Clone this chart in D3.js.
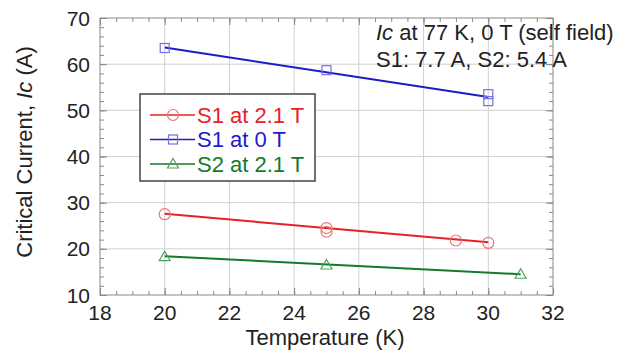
<!DOCTYPE html>
<html><head><meta charset="utf-8">
<script src="https://cdn.jsdelivr.net/npm/d3@7"></script>
<style>body{margin:0;background:#fff}svg{display:block;font-family:Arial,"Liberation Sans",sans-serif}</style>
</head><body>
<svg id="c" width="627" height="351"></svg>
<script>
// Data
const seriesNames = ["S1 at 2.1 T", "S1 at 0 T", "S2 at 2.1 T"];
const s1High = [[20,27.5],[25,24.5],[25,23.7],[29,21.8],[30,21.3]];
const s1Zero = [[20,63.5],[25,58.7],[30,53.5],[30,52.0]];
const s2High = [[20,18.3],[25,16.5],[31,14.5]];
const fitS1High = [[20,27.6],[30,21.4]];
const fitS1Zero = [[20,63.6],[30,52.9]];
const fitS2High = [[20,18.4],[31,14.5]];
const xTicks = [18,20,22,24,26,28,30,32];
const yTicks = [10,20,30,40,50,60,70];
const noteLines = ["at 77 K, 0 T (self field)", "S1: 7.7 A, S2: 5.4 A"];

const svg = d3.select("#c");
const L=100,R=553,T=18,B=295;
const FS=21, FT=22;
const x = d3.scaleLinear().domain([18,32]).range([L,R]);
const y = d3.scaleLinear().domain([10,70]).range([B,T]);

// grid
const g = svg.append("g");
g.selectAll(".gx").data(xTicks.slice(1,-1)).join("line")
 .attr("x1",d=>x(d)).attr("x2",d=>x(d)).attr("y1",T).attr("y2",B)
 .attr("stroke","#d0d0d0").attr("stroke-width",1);
g.selectAll(".gy").data(yTicks.slice(1,-1)).join("line")
 .attr("y1",d=>y(d)).attr("y2",d=>y(d)).attr("x1",L).attr("x2",R)
 .attr("stroke","#d0d0d0").attr("stroke-width",1);

// axes with inner ticks
const axCol="#888";
function styleAxis(sel){sel.select(".domain").remove();sel.selectAll("line").attr("stroke",axCol);sel.selectAll("text").remove();}
const xMinor = d3.range(18,32.01,0.5);
const yMinor = d3.range(10,70.01,2);
svg.append("g").attr("transform",`translate(0,${B})`).call(d3.axisTop(x).tickValues(xMinor).tickSize(4)).call(styleAxis);
svg.append("g").attr("transform",`translate(0,${B})`).call(d3.axisTop(x).tickValues(xTicks).tickSize(7)).call(styleAxis);
svg.append("g").attr("transform",`translate(0,${T})`).call(d3.axisBottom(x).tickValues(xMinor).tickSize(4)).call(styleAxis);
svg.append("g").attr("transform",`translate(0,${T})`).call(d3.axisBottom(x).tickValues(xTicks).tickSize(7)).call(styleAxis);
svg.append("g").attr("transform",`translate(${L},0)`).call(d3.axisRight(y).tickValues(yMinor).tickSize(4)).call(styleAxis);
svg.append("g").attr("transform",`translate(${L},0)`).call(d3.axisRight(y).tickValues(yTicks).tickSize(7)).call(styleAxis);
svg.append("g").attr("transform",`translate(${R},0)`).call(d3.axisLeft(y).tickValues(yMinor).tickSize(4)).call(styleAxis);
svg.append("g").attr("transform",`translate(${R},0)`).call(d3.axisLeft(y).tickValues(yTicks).tickSize(7)).call(styleAxis);
svg.append("rect").attr("x",L).attr("y",T).attr("width",R-L).attr("height",B-T)
 .attr("fill","none").attr("stroke",axCol).attr("stroke-width",1);

// tick labels
svg.selectAll(".xl").data(xTicks).join("text").attr("x",d=>x(d)).attr("y",320)
 .attr("text-anchor","middle").attr("font-size",FS).attr("fill","#222").text(d=>d);
svg.selectAll(".yl").data(yTicks).join("text").attr("x",L-10).attr("y",d=>y(d)+7.5)
 .attr("text-anchor","end").attr("font-size",FS).attr("fill","#222").text(d=>d);

// axis titles
svg.append("text").attr("x",325).attr("y",345).attr("text-anchor","middle")
 .attr("font-size",FT).attr("fill","#222").text("Temperature (K)");
const yt = svg.append("text").attr("transform",`translate(32,152) rotate(-90)`)
 .attr("text-anchor","middle").attr("font-size",FT).attr("fill","#222");
yt.append("tspan").text("Critical Current, ");
yt.append("tspan").attr("font-style","italic").text("Ic");
yt.append("tspan").text(" (A)");

// series
const series = [
 {name:seriesNames[0], pts:s1High, fit:fitS1High, line:"#e8202a", mk:"#f07070", shape:"circle"},
 {name:seriesNames[1], pts:s1Zero, fit:fitS1Zero, line:"#1c1cc8", mk:"#7070e8", shape:"square"},
 {name:seriesNames[2], pts:s2High, fit:fitS2High, line:"#147a28", mk:"#50a060", shape:"triangle"}
];
const lineGen = d3.line().x(d=>x(d[0])).y(d=>y(d[1]));
function marker(sel, shape, color, cx, cy){
  if(shape==="circle") sel.append("circle").attr("cx",cx).attr("cy",cy).attr("r",5.5).attr("fill","none").attr("stroke",color).attr("stroke-width",1.2);
  else if(shape==="square") sel.append("rect").attr("x",cx-4.5).attr("y",cy-4.5).attr("width",9).attr("height",9).attr("fill","none").attr("stroke",color).attr("stroke-width",1.2);
  else sel.append("path").attr("d",`M${cx},${cy-5.5}L${cx+5.5},${cy+4}L${cx-5.5},${cy+4}Z`).attr("fill","none").attr("stroke",color).attr("stroke-width",1.2);
}
series.forEach(s=>{
  svg.append("path").attr("d",lineGen(s.fit)).attr("fill","none").attr("stroke",s.line).attr("stroke-width",2);
  const mg = svg.append("g");
  s.pts.forEach(p=>marker(mg,s.shape,s.mk,x(p[0]),y(p[1])));
});

// legend
const lg = svg.append("g");
lg.append("rect").attr("x",140).attr("y",94).attr("width",175).attr("height",87)
 .attr("fill","#fff").attr("stroke","#444").attr("stroke-width",1.5);
series.forEach((s,i)=>{
  const cy = 115 + i*24.5;
  lg.append("line").attr("x1",150).attr("x2",195).attr("y1",cy).attr("y2",cy).attr("stroke",s.line).attr("stroke-width",1.5);
  marker(lg,s.shape,s.mk,173,cy);
  lg.append("text").attr("x",197).attr("y",cy+7.5).attr("font-size",FT).attr("fill",s.line).text(s.name);
});

// annotation
const nt = svg.append("text").attr("x",376).attr("y",40).attr("font-size",FT).attr("fill","#222");
nt.append("tspan").attr("font-style","italic").text("Ic");
nt.append("tspan").text(" "+noteLines[0]);
svg.append("text").attr("x",376).attr("y",67).attr("font-size",FT).attr("fill","#222").text(noteLines[1]);
</script>
</body></html>
